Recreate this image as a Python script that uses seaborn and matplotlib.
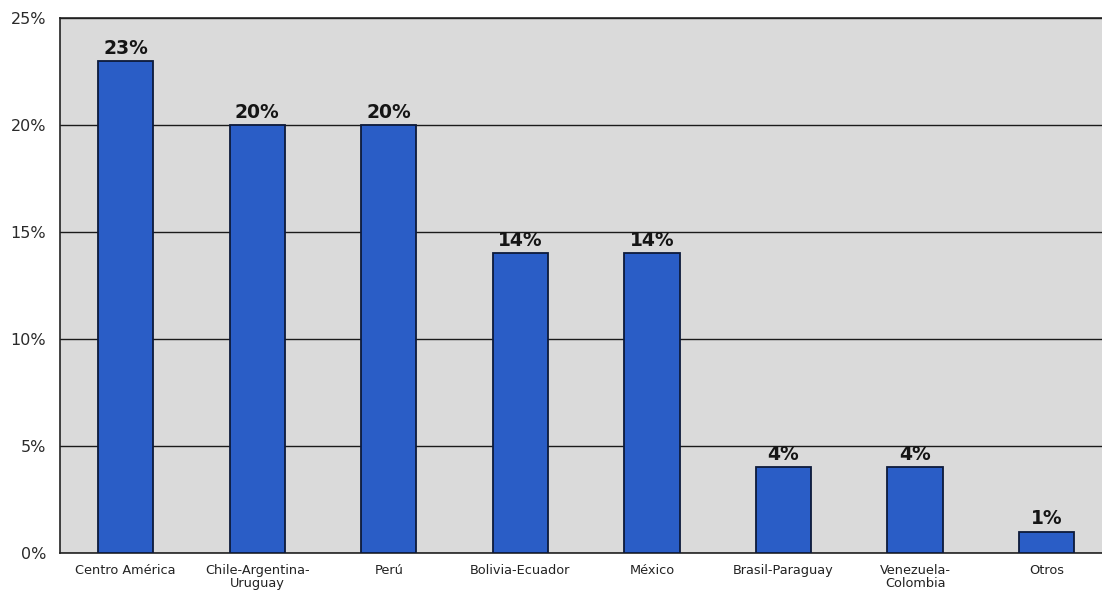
import matplotlib
matplotlib.use("Agg")
import matplotlib.pyplot as plt
import seaborn as sns
import pandas as pd
import numpy as np
from matplotlib.ticker import FixedLocator, FuncFormatter

regiones = ["Centro América", "Chile-Argentina-\nUruguay", "Perú", "Bolivia-Ecuador",
            "México", "Brasil-Paraguay", "Venezuela-\nColombia", "Otros"]
porcentajes = [23, 20, 20, 14, 14, 4, 4, 1]
y_ticks = [0, 5, 10, 15, 20, 25]

df = pd.DataFrame({"region": regiones, "pct": porcentajes})

sns.set_theme(style="white")
plt.rcParams["font.family"] = ["DejaVu Sans"]

fig = plt.figure(figsize=(11.02, 5.90), dpi=100)
ax = fig.add_axes([0.0544, 0.0627, 0.955, 0.9068])
ax.set_facecolor("#dadada")

sns.barplot(data=df, x="region", y="pct", color="#2a5dc6", width=0.42,
            edgecolor="#0d1a3a", linewidth=1.3, saturation=1, ax=ax, zorder=3)

ax.set_ylim(0, 25)
ax.set_xlim(-0.5, len(regiones) - 0.5)
ax.set_yticks(y_ticks)
ax.yaxis.set_major_formatter(FuncFormatter(lambda v, _: f"{v:.0f}%"))
ax.yaxis.grid(True, color="#1a1a1a", linewidth=1.0, zorder=1)
ax.set_axisbelow(True)

# category ticks sit on the boundaries between bars
ax.xaxis.set_major_locator(FixedLocator(np.arange(len(regiones))))
ax.tick_params(axis="x", which="major", length=0, labelsize=9.3, pad=8, colors="#222222")
ax.xaxis.set_minor_locator(FixedLocator(np.arange(-0.5, len(regiones), 1.0)))
ax.tick_params(axis="x", which="minor", length=4, width=1, color="#333333", direction="out")
ax.tick_params(axis="y", length=5, width=1, color="#333333", labelsize=11.5, pad=5,
               labelcolor="#2a2a2a")
ax.set_xlabel("")
ax.set_ylabel("")
for lbl in ax.get_xticklabels():
    lbl.set_linespacing(0.95)

for name, sp in ax.spines.items():
    sp.set_color("#222222")
    sp.set_linewidth(1.2)
ax.spines["right"].set_visible(False)

for i, v in enumerate(porcentajes):
    ax.text(i, v + 0.15, f"{v}%", ha="center", va="bottom", fontsize=13.5,
            fontweight="bold", color="#151515", zorder=4)

fig.savefig("out.png", dpi=100, facecolor="white")
